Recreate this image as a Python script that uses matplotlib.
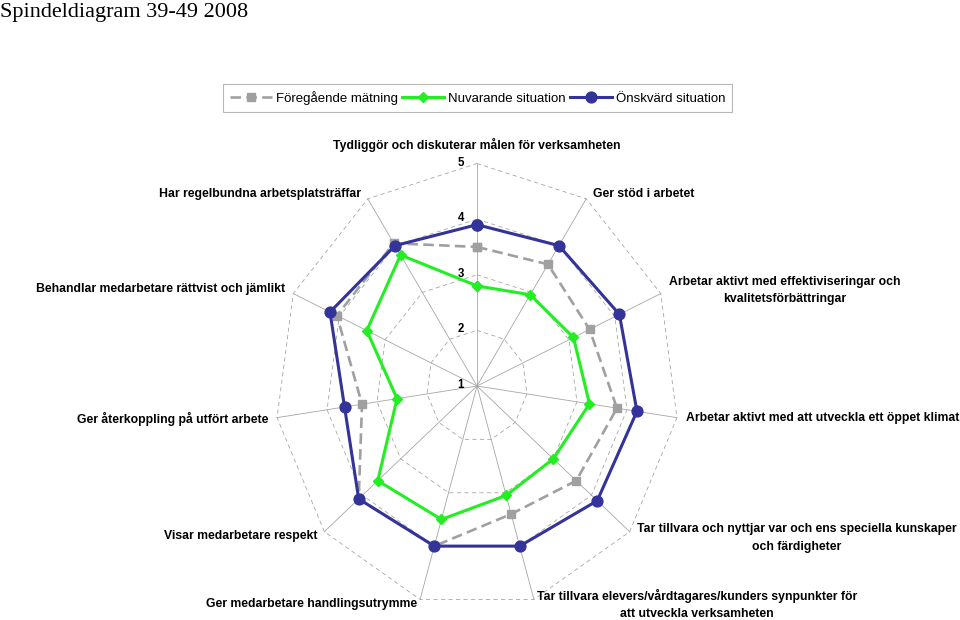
import numpy as np
import matplotlib
matplotlib.use("Agg")
import matplotlib.pyplot as plt

categories = [
    "Tydliggör och diskuterar målen för verksamheten",
    "Ger stöd i arbetet",
    "Arbetar aktivt med effektiviseringar och\nkvalitetsförbättringar",
    "Arbetar aktivt med att utveckla ett öppet klimat",
    "Tar tillvara och nyttjar var och ens speciella kunskaper\noch färdigheter",
    "Tar tillvara elevers/vårdtagares/kunders synpunkter för\natt utveckla verksamheten",
    "Ger medarbetare handlingsutrymme",
    "Visar medarbetare respekt",
    "Ger återkoppling på utfört arbete",
    "Behandlar medarbetare rättvist och jämlikt",
    "Har regelbundna arbetsplatsträffar",
]
foregaende = [3.5, 3.6, 3.45, 3.8, 3.6, 3.4, 4.0, 4.1, 3.3, 4.05, 4.05]
nuvarande = [2.8, 2.95, 3.1, 3.25, 3.0, 3.05, 3.5, 3.6, 2.6, 3.4, 3.8]
onskvard = [3.9, 4.0, 4.1, 4.2, 4.15, 4.0, 4.0, 4.1, 3.65, 4.2, 4.0]
series_names = ["Föregående mätning", "Nuvarande situation", "Önskvärd situation"]
levels = [1, 2, 3, 4, 5]
title = "Spindeldiagram 39-49 2008"

# label offsets in pixels (dx, dy up) and alignment
label_offsets = [(0, 19, "center"), (7, 5, "left"), (8, 3, "left"), (9, 0, "left"),
                 (7, -6, "left"), (3, -5, "left"), (-3, -5, "right"), (-7, -4, "right"),
                 (-9, -1, "right"), (-8, 5, "right"), (-7, 5, "right")]

n = len(categories)
theta = np.arange(n) * 2 * np.pi / n
rmin, rmax = levels[0], levels[-1]


def xy(vals):
    v = np.asarray(vals, dtype=float) - rmin
    return v * np.sin(theta), v * np.cos(theta)


def closed(a):
    return np.append(a, a[0])


fig = plt.figure(figsize=(9.6, 6.2), dpi=100)
ax = fig.add_axes([275 / 960, (620 - 608.5) / 620, 404 / 960, 445 / 620])
R = rmax - rmin
ax.set_xlim(-R, R)
ax.set_ylim(-R, R)
ax.axis("off")

grid_col = "#A6A6A6"
# spokes
for t in theta:
    ax.plot([0, R * np.sin(t)], [0, R * np.cos(t)], color=grid_col, lw=0.6, zorder=1,
            clip_on=False)
# dashed polygons
for lv in levels[1:]:
    gx, gy = xy([lv] * n)
    ax.plot(closed(gx), closed(gy), color=grid_col, lw=0.6, dashes=(5, 4), zorder=1,
            clip_on=False)

# tick labels
for lv in levels:
    ax.annotate(str(lv), xy=(0, lv - rmin), xytext=(-16, 1), textcoords="offset pixels",
                ha="center", va="center", fontsize=8.3, fontweight="bold",
                family="Liberation Sans")

# series
gx, gy = xy(foregaende)
ax.plot(closed(gx), closed(gy), color="#A0A0A0", lw=1.9, dashes=(4, 2), marker="s",
        ms=5.5, mfc="#A0A0A0", mec="#A0A0A0", label=series_names[0], zorder=3,
        clip_on=False)
nx, ny = xy(nuvarande)
ax.plot(closed(nx), closed(ny), color="#22EE22", lw=2.2, marker="D", ms=5,
        mfc="#22EE22", mec="#22EE22", label=series_names[1], zorder=4, clip_on=False)
ox, oy = xy(onskvard)
ax.plot(closed(ox), closed(oy), color="#333399", lw=2.2, marker="o", ms=7.8,
        mfc="#333399", mec="#333399", label=series_names[2], zorder=5, clip_on=False)

# category labels
for i, lab in enumerate(categories):
    dx, dy, ha = label_offsets[i]
    ax.annotate(lab, xy=(R * np.sin(theta[i]), R * np.cos(theta[i])), xytext=(dx, dy),
                textcoords="offset pixels", ha=ha, va="center", multialignment="center",
                fontsize=8.8, fontweight="bold", family="Liberation Sans",
                linespacing=1.65, annotation_clip=False)

leg = fig.legend(loc="center", bbox_to_anchor=(477.5 / 960, 1 - 98 / 620), ncol=3,
                 frameon=True, fancybox=False, numpoints=1, handlelength=3.2,
                 handletextpad=0.3, columnspacing=0.3, borderpad=0.5,
                 prop={"family": "Liberation Sans", "size": 9.5})
leg.get_frame().set_edgecolor("#A6A6A6")
leg.get_frame().set_linewidth(0.8)

fig.text(0.0, 1 - 17 / 620, title, ha="left", va="baseline", fontsize=16,
         family="Liberation Serif")

fig.savefig("out.png", dpi=100)
